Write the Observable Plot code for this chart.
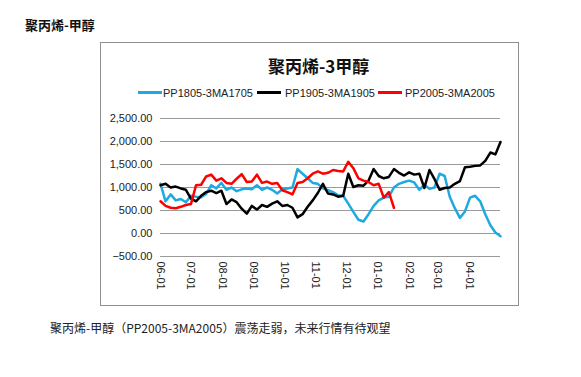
<!DOCTYPE html>
<html>
<head>
<meta charset="utf-8">
<script src="https://cdn.jsdelivr.net/npm/d3@7"></script>
<script src="https://cdn.jsdelivr.net/npm/@observablehq/plot@0.6"></script>
<style>
  html, body { margin: 0; padding: 0; background: #fff; }
  #page { position: relative; width: 581px; height: 377px; background: #fff; overflow: hidden; }
  .abs { position: absolute; line-height: 1; white-space: nowrap; }
  .leg { font: 11px "Liberation Sans", Arial, sans-serif; color: #222; }
  .sw { position: absolute; height: 3px; }
</style>
</head>
<body>
<div id="page">
  <div class="abs" style="left:25px;top:15px;font:bold 13px 'Noto Sans CJK SC';color:#111;">聚丙烯-甲醇</div>
  <div class="abs" style="left:100px;top:42px;width:417px;height:262px;border:1px solid #8f8f8f;"></div>
  <div class="abs" style="left:268px;top:53px;font:bold 17px 'Noto Sans CJK SC';color:#111;">聚丙烯-3甲醇</div>
  <div id="legend"></div>
  <div id="chart" class="abs" style="left:100px;top:105px;"></div>
  <div class="abs" style="left:50px;top:319px;font:12px 'Noto Sans CJK SC';color:#222;">聚丙烯-甲醇（PP2005-3MA2005）震荡走弱，未来行情有待观望</div>
</div>
<script>
// ---- data ----
const startDate = [2017, 5, 1];            // x axis origin (06-01)
const dayOffsets = d3.range(0, 340, 5);    // sampling grid, days after 06-01
const seriesNames = ["PP1805-3MA1705", "PP1905-3MA1905", "PP2005-3MA2005"];
const seriesColors = ["#1fa9e1", "#000000", "#ff0000"];
const blueValues = [1080,700,850,720,750,680,820,800,790,860,
  1050,980,1100,950,1000,920,960,980,960,1050,
  950,1000,950,870,960,980,1000,1400,1300,1200,
  1100,1080,980,940,900,830,820,650,470,300,
  260,420,600,720,780,800,1000,1080,1120,1150,
  1110,950,1060,970,1000,1300,1250,800,550,340,
  480,780,820,700,420,180,20,-60];
const blackValues = [1050,1080,1000,1020,980,950,760,700,820,900,
  930,880,930,640,740,680,540,430,600,520,
  620,580,650,700,600,620,560,350,420,580,
  720,880,1080,870,850,800,820,1300,1010,1050,
  1040,1150,1400,1250,1200,1230,1400,1320,1260,1330,
  1280,1300,990,1380,1180,950,990,1000,1080,1140,
  1440,1450,1470,1480,1580,1760,1720,1990];
const redValues = [700,600,560,550,580,620,640,1050,1060,1240,
  1280,1150,1200,1100,1080,1190,1290,1120,1130,1280,
  1100,1130,1080,1100,940,900,850,1100,1120,1200,
  1300,1350,1300,1320,1380,1360,1350,1560,1420,1200,
  1150,1120,1050,1080,780,900,560];
const yTicks = [-500, 0, 500, 1000, 1500, 2000, 2500];
const xTickLabels = ["06-01","07-01","08-01","09-01","10-01","11-01","12-01","01-01","02-01","03-01","04-01"];

// ---- build ----
const toDate = d => new Date(startDate[0], startDate[1], startDate[2] + d);
const xTicks = xTickLabels.map(s => {
  const [m, day] = s.split("-").map(Number);
  return new Date(m >= 6 ? startDate[0] : startDate[0] + 1, m - 1, day);
});
const rows = (vals) => vals.map((v, i) => ({date: toDate(dayOffsets[i]), value: v}));
const allValues = [blueValues, blackValues, redValues];

const chart = Plot.plot({
  width: 410, height: 195,
  marginLeft: 60, marginRight: 10, marginTop: 13, marginBottom: 44,
  style: {fontFamily: "'Liberation Sans', Arial, sans-serif", fontSize: "11px", color: "#222", background: "transparent", overflow: "visible"},
  x: {type: "time", domain: [toDate(0), toDate(335)]},
  y: {domain: [-500, 2500]},
  marks: [
    Plot.gridY(yTicks, {stroke: "#9a9a9a", strokeOpacity: 1, strokeWidth: 1}),
    Plot.axisY(yTicks, {tickSize: 0, tickPadding: 8, tickFormat: d3.format(",.2f"), label: null}),
    Plot.axisX(xTicks, {tickSize: 0, tickPadding: 5, tickRotate: 90, tickFormat: d3.timeFormat("%m-%d"), label: null}),
    ...allValues.map((vals, i) => Plot.line(rows(vals), {x: "date", y: "value", stroke: seriesColors[i], strokeWidth: 2.5, strokeLinejoin: "round"}))
  ]
});
document.getElementById("chart").appendChild(chart);

// legend
const legend = document.getElementById("legend");
const legPos = [[138, 163], [257, 285], [378, 405]];
seriesNames.forEach((name, i) => {
  const sw = document.createElement("div");
  sw.className = "sw";
  sw.style.left = legPos[i][0] + "px";
  sw.style.width = "24px";
  sw.style.top = "91px";
  sw.style.background = seriesColors[i];
  legend.appendChild(sw);
  const t = document.createElement("div");
  t.className = "abs leg";
  t.style.left = legPos[i][1] + "px";
  t.style.top = "87px";
  t.textContent = name;
  legend.appendChild(t);
});
</script>
</body>
</html>
